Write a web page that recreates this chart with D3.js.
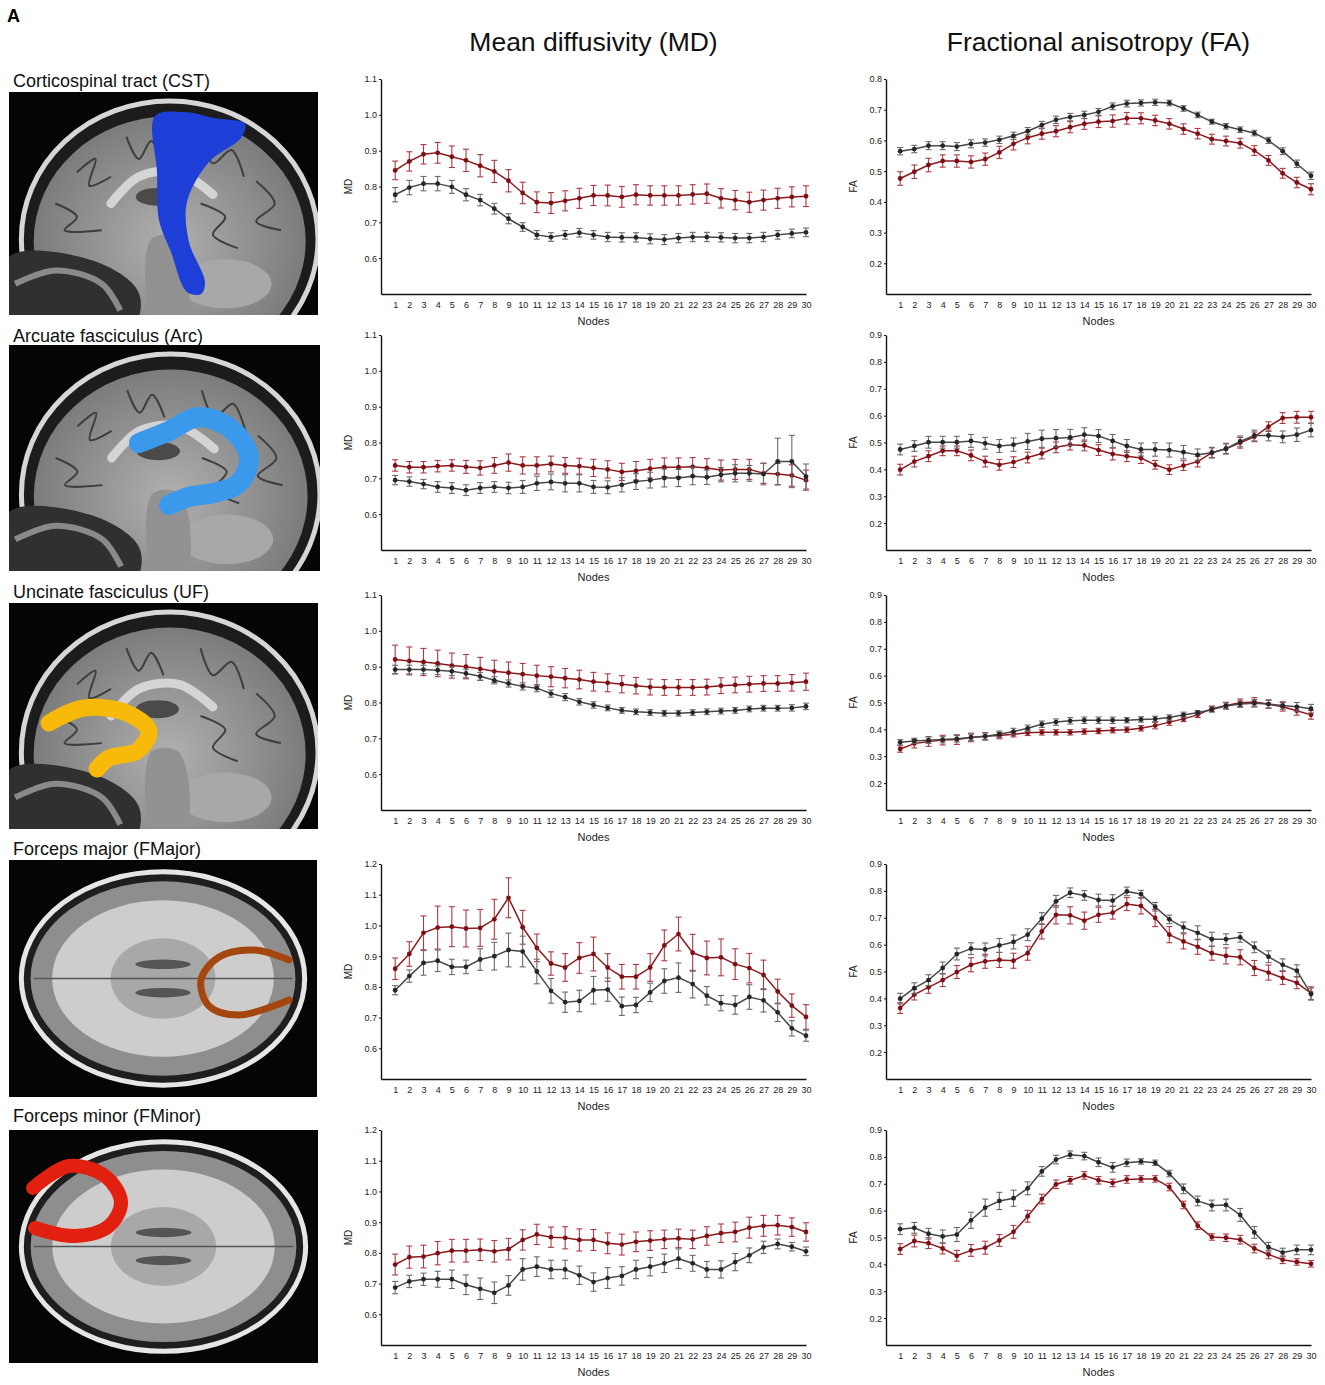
<!DOCTYPE html>
<html>
<head>
<meta charset="utf-8">
<script src="https://cdn.jsdelivr.net/npm/d3@7"></script>
<style>
  body { margin: 0; background: #fff; }
  svg { display: block; font-family: "Liberation Sans", Arial, sans-serif; }
</style>
</head>
<body>
<svg id="fig" width="1325" height="1385"></svg>
<script>
// ---- data ----
const nodes = [1, 2, 3, 4, 5, 6, 7, 8, 9, 10, 11, 12, 13, 14, 15,
  16, 17, 18, 19, 20, 21, 22, 23, 24, 25, 26, 27, 28, 29, 30];

const tractNames = ['Corticospinal tract (CST)', 'Arcuate fasciculus (Arc)',
  'Uncinate fasciculus (UF)', 'Forceps major (FMajor)', 'Forceps minor (FMinor)'];
const columnTitles = ['Mean diffusivity (MD)', 'Fractional anisotropy (FA)'];

const mdRanges = [[0.5, 1.1], [0.5, 1.1], [0.5, 1.1], [0.5, 1.2], [0.5, 1.2]];
const faRanges = [[0.1, 0.8], [0.1, 0.9], [0.1, 0.9], [0.1, 0.9], [0.1, 0.9]];

// CST
const cstMdRed = [0.845, 0.870, 0.890, 0.894, 0.883, 0.873, 0.858, 0.842, 0.816, 0.782, 0.756, 0.754, 0.760, 0.767, 0.775,
  0.775, 0.771, 0.777, 0.775, 0.775, 0.775, 0.778, 0.780, 0.767, 0.762, 0.756, 0.762, 0.767, 0.771, 0.773];
const cstMdRedErr = [0.026, 0.027, 0.027, 0.029, 0.030, 0.031, 0.031, 0.031, 0.031, 0.030, 0.029, 0.029, 0.028, 0.028, 0.028,
  0.029, 0.029, 0.028, 0.027, 0.027, 0.027, 0.027, 0.027, 0.027, 0.027, 0.028, 0.028, 0.028, 0.028, 0.029];
const cstMdGray = [0.777, 0.797, 0.808, 0.808, 0.799, 0.777, 0.762, 0.738, 0.710, 0.687, 0.665, 0.659, 0.665, 0.671, 0.665,
  0.659, 0.658, 0.658, 0.654, 0.652, 0.656, 0.659, 0.659, 0.658, 0.656, 0.656, 0.659, 0.665, 0.669, 0.672];
const cstMdGrayErr = [0.020, 0.020, 0.020, 0.020, 0.018, 0.017, 0.016, 0.015, 0.014, 0.012, 0.012, 0.012, 0.012, 0.012, 0.012,
  0.013, 0.013, 0.013, 0.014, 0.014, 0.013, 0.013, 0.013, 0.013, 0.013, 0.013, 0.013, 0.012, 0.012, 0.012];
const cstFaRed = [0.476, 0.498, 0.520, 0.533, 0.533, 0.530, 0.539, 0.561, 0.589, 0.609, 0.622, 0.630, 0.643, 0.654, 0.661,
  0.663, 0.672, 0.672, 0.665, 0.654, 0.637, 0.622, 0.604, 0.598, 0.591, 0.567, 0.535, 0.493, 0.463, 0.441];
const cstFaRedErr = [0.022, 0.022, 0.022, 0.020, 0.020, 0.020, 0.020, 0.020, 0.020, 0.020, 0.018, 0.018, 0.018, 0.018, 0.019,
  0.020, 0.019, 0.018, 0.017, 0.017, 0.017, 0.017, 0.016, 0.016, 0.016, 0.016, 0.016, 0.016, 0.017, 0.018];
const cstFaGray = [0.565, 0.572, 0.583, 0.583, 0.580, 0.589, 0.593, 0.602, 0.615, 0.630, 0.650, 0.667, 0.676, 0.683, 0.693,
  0.711, 0.720, 0.722, 0.724, 0.722, 0.704, 0.683, 0.661, 0.646, 0.635, 0.624, 0.600, 0.565, 0.524, 0.485];
const cstFaGrayErr = [0.012, 0.012, 0.013, 0.013, 0.013, 0.013, 0.012, 0.012, 0.012, 0.012, 0.012, 0.012, 0.012, 0.012, 0.011,
  0.011, 0.011, 0.010, 0.010, 0.009, 0.009, 0.009, 0.008, 0.009, 0.009, 0.009, 0.010, 0.011, 0.012, 0.012];

// Arc
const arcMdRed = [0.736, 0.731, 0.731, 0.734, 0.736, 0.732, 0.729, 0.736, 0.744, 0.736, 0.736, 0.740, 0.736, 0.734, 0.729,
  0.725, 0.718, 0.721, 0.727, 0.731, 0.731, 0.732, 0.729, 0.723, 0.725, 0.725, 0.714, 0.712, 0.708, 0.695];
const arcMdRedErr = [0.016, 0.016, 0.016, 0.016, 0.016, 0.018, 0.020, 0.022, 0.024, 0.024, 0.024, 0.022, 0.022, 0.022, 0.024,
  0.024, 0.024, 0.026, 0.026, 0.026, 0.026, 0.026, 0.026, 0.028, 0.028, 0.028, 0.028, 0.030, 0.030, 0.028];
const arcMdGray = [0.695, 0.691, 0.684, 0.676, 0.673, 0.667, 0.673, 0.676, 0.673, 0.676, 0.686, 0.690, 0.686, 0.686, 0.676,
  0.675, 0.682, 0.691, 0.695, 0.701, 0.701, 0.706, 0.703, 0.710, 0.714, 0.714, 0.712, 0.747, 0.747, 0.705];
const arcMdGrayErr = [0.013, 0.013, 0.013, 0.015, 0.015, 0.015, 0.015, 0.015, 0.016, 0.018, 0.020, 0.022, 0.024, 0.024, 0.018,
  0.018, 0.020, 0.022, 0.022, 0.025, 0.024, 0.024, 0.020, 0.020, 0.024, 0.022, 0.030, 0.065, 0.073, 0.035];
const arcFaRed = [0.399, 0.429, 0.449, 0.469, 0.469, 0.452, 0.429, 0.417, 0.427, 0.444, 0.459, 0.482, 0.492, 0.489, 0.472,
  0.457, 0.449, 0.442, 0.417, 0.399, 0.414, 0.429, 0.462, 0.477, 0.499, 0.521, 0.559, 0.591, 0.594, 0.594];
const arcFaRedErr = [0.020, 0.020, 0.020, 0.018, 0.018, 0.020, 0.020, 0.020, 0.020, 0.020, 0.020, 0.020, 0.020, 0.020, 0.020,
  0.022, 0.020, 0.020, 0.016, 0.018, 0.018, 0.020, 0.018, 0.020, 0.020, 0.018, 0.018, 0.020, 0.022, 0.022];
const arcFaGray = [0.474, 0.487, 0.501, 0.501, 0.501, 0.506, 0.497, 0.487, 0.492, 0.504, 0.514, 0.516, 0.519, 0.529, 0.524,
  0.506, 0.487, 0.474, 0.474, 0.472, 0.464, 0.454, 0.462, 0.477, 0.504, 0.526, 0.526, 0.521, 0.529, 0.546];
const arcFaGrayErr = [0.020, 0.020, 0.022, 0.022, 0.022, 0.024, 0.022, 0.024, 0.025, 0.030, 0.032, 0.032, 0.030, 0.026, 0.024,
  0.024, 0.024, 0.024, 0.025, 0.026, 0.025, 0.022, 0.020, 0.018, 0.020, 0.020, 0.020, 0.022, 0.025, 0.025];

// UF
const ufMdRed = [0.920, 0.916, 0.913, 0.909, 0.903, 0.900, 0.894, 0.887, 0.883, 0.879, 0.875, 0.872, 0.868, 0.864, 0.858,
  0.855, 0.851, 0.847, 0.843, 0.842, 0.842, 0.842, 0.843, 0.847, 0.849, 0.851, 0.853, 0.853, 0.855, 0.858];
const ufMdRedErr = [0.040, 0.039, 0.038, 0.037, 0.035, 0.034, 0.032, 0.031, 0.030, 0.030, 0.029, 0.028, 0.027, 0.026, 0.026,
  0.025, 0.024, 0.023, 0.022, 0.022, 0.022, 0.022, 0.022, 0.022, 0.022, 0.022, 0.022, 0.022, 0.023, 0.024];
const ufMdGray = [0.892, 0.892, 0.892, 0.890, 0.887, 0.881, 0.873, 0.862, 0.853, 0.845, 0.840, 0.825, 0.815, 0.802, 0.793,
  0.785, 0.778, 0.774, 0.772, 0.770, 0.770, 0.772, 0.774, 0.776, 0.778, 0.782, 0.784, 0.784, 0.785, 0.789];
const ufMdGrayErr = [0.012, 0.012, 0.012, 0.012, 0.012, 0.012, 0.011, 0.010, 0.010, 0.010, 0.010, 0.010, 0.010, 0.009, 0.009,
  0.008, 0.008, 0.008, 0.008, 0.008, 0.008, 0.008, 0.008, 0.008, 0.008, 0.008, 0.008, 0.008, 0.009, 0.009];
const ufFaRed = [0.327, 0.347, 0.355, 0.360, 0.362, 0.370, 0.374, 0.377, 0.382, 0.387, 0.389, 0.389, 0.389, 0.392, 0.394,
  0.397, 0.399, 0.404, 0.414, 0.427, 0.439, 0.454, 0.477, 0.489, 0.499, 0.502, 0.494, 0.484, 0.469, 0.454];
const ufFaRedErr = [0.012, 0.016, 0.018, 0.018, 0.018, 0.016, 0.014, 0.012, 0.010, 0.010, 0.010, 0.010, 0.010, 0.010, 0.010,
  0.010, 0.010, 0.010, 0.012, 0.012, 0.010, 0.010, 0.010, 0.012, 0.014, 0.016, 0.016, 0.016, 0.016, 0.016];
const ufFaGray = [0.352, 0.357, 0.360, 0.362, 0.365, 0.370, 0.374, 0.382, 0.392, 0.404, 0.419, 0.427, 0.432, 0.434, 0.434,
  0.434, 0.434, 0.437, 0.439, 0.444, 0.454, 0.462, 0.474, 0.487, 0.494, 0.497, 0.494, 0.489, 0.484, 0.477];
const ufFaGrayErr = [0.010, 0.010, 0.012, 0.012, 0.012, 0.012, 0.012, 0.012, 0.012, 0.012, 0.012, 0.012, 0.012, 0.012, 0.012,
  0.012, 0.010, 0.010, 0.010, 0.010, 0.010, 0.008, 0.010, 0.012, 0.012, 0.014, 0.014, 0.014, 0.016, 0.016];

// FMajor
const fmajMdRed = [0.859, 0.907, 0.976, 0.993, 0.996, 0.990, 0.992, 1.020, 1.090, 0.994, 0.927, 0.876, 0.863, 0.894, 0.907,
  0.863, 0.833, 0.833, 0.863, 0.935, 0.972, 0.911, 0.894, 0.896, 0.874, 0.861, 0.839, 0.785, 0.739, 0.702];
const fmajMdRedErr = [0.035, 0.040, 0.055, 0.070, 0.065, 0.060, 0.060, 0.065, 0.065, 0.055, 0.045, 0.038, 0.045, 0.050, 0.055,
  0.045, 0.040, 0.040, 0.045, 0.050, 0.055, 0.060, 0.055, 0.060, 0.050, 0.048, 0.048, 0.040, 0.038, 0.040];
const fmajMdGray = [0.789, 0.835, 0.878, 0.885, 0.865, 0.865, 0.889, 0.900, 0.920, 0.915, 0.850, 0.787, 0.750, 0.754, 0.789,
  0.791, 0.737, 0.741, 0.782, 0.819, 0.830, 0.809, 0.771, 0.747, 0.741, 0.767, 0.756, 0.717, 0.665, 0.641];
const fmajMdGrayErr = [0.015, 0.020, 0.040, 0.035, 0.025, 0.022, 0.035, 0.045, 0.055, 0.050, 0.040, 0.040, 0.033, 0.035, 0.045,
  0.038, 0.030, 0.025, 0.030, 0.040, 0.048, 0.045, 0.030, 0.025, 0.030, 0.040, 0.038, 0.030, 0.025, 0.018];
const fmajFaRed = [0.364, 0.414, 0.441, 0.468, 0.498, 0.525, 0.538, 0.543, 0.540, 0.568, 0.649, 0.711, 0.709, 0.689, 0.711,
  0.719, 0.751, 0.744, 0.699, 0.637, 0.612, 0.592, 0.568, 0.558, 0.553, 0.513, 0.496, 0.476, 0.458, 0.419];
const fmajFaRedErr = [0.020, 0.020, 0.022, 0.024, 0.024, 0.026, 0.026, 0.028, 0.028, 0.026, 0.028, 0.034, 0.032, 0.032, 0.028,
  0.024, 0.024, 0.030, 0.032, 0.030, 0.028, 0.028, 0.026, 0.030, 0.028, 0.028, 0.028, 0.024, 0.022, 0.024];
const fmajFaGray = [0.399, 0.438, 0.468, 0.513, 0.565, 0.585, 0.582, 0.597, 0.610, 0.637, 0.697, 0.761, 0.793, 0.783, 0.766,
  0.764, 0.798, 0.788, 0.741, 0.694, 0.664, 0.644, 0.620, 0.620, 0.627, 0.590, 0.555, 0.525, 0.503, 0.416];
const fmajFaGrayErr = [0.020, 0.020, 0.020, 0.022, 0.022, 0.022, 0.024, 0.026, 0.026, 0.022, 0.022, 0.022, 0.018, 0.018, 0.022,
  0.022, 0.016, 0.014, 0.016, 0.016, 0.020, 0.026, 0.026, 0.020, 0.018, 0.020, 0.022, 0.022, 0.022, 0.022];

// FMinor
const fminMdRed = [0.762, 0.786, 0.788, 0.799, 0.807, 0.807, 0.810, 0.805, 0.812, 0.842, 0.860, 0.851, 0.849, 0.842, 0.842,
  0.831, 0.827, 0.836, 0.840, 0.844, 0.847, 0.844, 0.855, 0.864, 0.868, 0.882, 0.888, 0.890, 0.884, 0.868];
const fminMdRedErr = [0.034, 0.036, 0.037, 0.038, 0.037, 0.037, 0.035, 0.035, 0.035, 0.033, 0.033, 0.033, 0.036, 0.036, 0.034,
  0.034, 0.034, 0.032, 0.032, 0.030, 0.030, 0.030, 0.030, 0.030, 0.032, 0.034, 0.034, 0.032, 0.030, 0.030];
const fminMdGray = [0.687, 0.707, 0.714, 0.714, 0.714, 0.696, 0.683, 0.670, 0.694, 0.746, 0.755, 0.746, 0.746, 0.727, 0.705,
  0.718, 0.725, 0.746, 0.755, 0.766, 0.781, 0.766, 0.746, 0.746, 0.770, 0.792, 0.818, 0.829, 0.820, 0.805];
const fminMdGrayErr = [0.020, 0.020, 0.020, 0.026, 0.030, 0.032, 0.035, 0.035, 0.032, 0.035, 0.032, 0.030, 0.030, 0.030, 0.030,
  0.034, 0.030, 0.030, 0.030, 0.030, 0.032, 0.026, 0.026, 0.028, 0.028, 0.024, 0.020, 0.016, 0.014, 0.014];
const fminFaRed = [0.457, 0.487, 0.479, 0.459, 0.432, 0.452, 0.462, 0.489, 0.521, 0.579, 0.643, 0.698, 0.713, 0.731, 0.713,
  0.703, 0.716, 0.718, 0.718, 0.688, 0.621, 0.544, 0.502, 0.499, 0.492, 0.459, 0.437, 0.417, 0.409, 0.402];
const fminFaRedErr = [0.020, 0.022, 0.020, 0.020, 0.020, 0.022, 0.024, 0.022, 0.024, 0.022, 0.018, 0.016, 0.014, 0.014, 0.014,
  0.014, 0.014, 0.012, 0.012, 0.014, 0.014, 0.014, 0.012, 0.014, 0.016, 0.016, 0.016, 0.014, 0.012, 0.012];
const fminFaGray = [0.531, 0.536, 0.514, 0.504, 0.511, 0.564, 0.611, 0.636, 0.646, 0.683, 0.746, 0.790, 0.808, 0.803, 0.780,
  0.761, 0.778, 0.783, 0.778, 0.738, 0.681, 0.636, 0.619, 0.621, 0.584, 0.519, 0.464, 0.444, 0.454, 0.454];
const fminFaGrayErr = [0.020, 0.020, 0.020, 0.024, 0.026, 0.030, 0.032, 0.032, 0.030, 0.024, 0.018, 0.016, 0.014, 0.014, 0.016,
  0.018, 0.014, 0.010, 0.010, 0.012, 0.018, 0.018, 0.020, 0.022, 0.024, 0.022, 0.018, 0.016, 0.018, 0.018];

// ---- layout ----
const rowTops = [79, 335, 595, 864, 1130];
const plotH = 215;
const mdX = [381, 806];
const faX = [886, 1311];
const imgBoxes = [[9, 92, 309, 223], [9, 345, 311, 226], [9, 603, 309, 226], [9, 860, 308, 237], [9, 1130, 309, 233]];
const labelBase = [87, 342, 598, 855, 1122];

const redLine = '#8c1a1f';
const redBar = '#ad3a40';
const grayLine = '#484848';
const grayBar = '#6a6a6a';

const panels = [
  {md: [cstMdRed, cstMdRedErr, cstMdGray, cstMdGrayErr], fa: [cstFaRed, cstFaRedErr, cstFaGray, cstFaGrayErr]},
  {md: [arcMdRed, arcMdRedErr, arcMdGray, arcMdGrayErr], fa: [arcFaRed, arcFaRedErr, arcFaGray, arcFaGrayErr]},
  {md: [ufMdRed, ufMdRedErr, ufMdGray, ufMdGrayErr], fa: [ufFaRed, ufFaRedErr, ufFaGray, ufFaGrayErr]},
  {md: [fmajMdRed, fmajMdRedErr, fmajMdGray, fmajMdGrayErr], fa: [fmajFaRed, fmajFaRedErr, fmajFaGray, fmajFaGrayErr]},
  {md: [fminMdRed, fminMdRedErr, fminMdGray, fminMdGrayErr], fa: [fminFaRed, fminFaRedErr, fminFaGray, fminFaGrayErr]},
];

const svg = d3.select('#fig');
const defs = svg.append('defs');

svg.append('text')
    .attr('x', 7).attr('y', 22)
    .attr('font-size', 18).attr('font-weight', 'bold')
    .text('A');

svg.selectAll('text.coltitle')
    .data(columnTitles)
    .join('text')
    .attr('class', 'coltitle')
    .attr('x', (d, i) => i === 0 ? (mdX[0] + mdX[1]) / 2 : (faX[0] + faX[1]) / 2)
    .attr('y', 51)
    .attr('text-anchor', 'middle')
    .attr('font-size', 26.5)
    .attr('fill', '#111')
    .text((d) => d);

// ---- one line/errorbar panel ----
const drawPanel = (xr, top, domain, series, yLabel) => {
  const g = svg.append('g');
  const x = d3.scaleLinear().domain([0, 30]).range(xr);
  const y = d3.scaleLinear().domain(domain).range([top + plotH, top]);
  const ticks = d3.range(Math.round((domain[0] + 0.1) * 10), Math.round(domain[1] * 10) + 1).map((v) => v / 10);

  const ya = g.append('g')
      .attr('transform', `translate(${xr[0]},0)`)
      .call(d3.axisLeft(y).tickValues(ticks).tickFormat(d3.format('.1f')).tickSize(2).tickPadding(2).tickSizeOuter(0));
  const xa = g.append('g')
      .attr('transform', `translate(0,${top + plotH})`)
      .call(d3.axisBottom(x).tickValues(nodes).tickSize(0).tickPadding(8).tickSizeOuter(0));
  [ya, xa].forEach((a) => {
    a.select('.domain').attr('stroke', '#111').attr('stroke-width', 1.4);
    a.selectAll('.tick line').attr('stroke', '#111');
    a.selectAll('.tick text').attr('font-size', 9).attr('fill', '#222').attr('font-family', null);
  });

  g.append('text')
      .attr('transform', `translate(${xr[0] - 29},${top + plotH / 2}) rotate(-90)`)
      .attr('text-anchor', 'middle')
      .attr('font-size', 10)
      .attr('fill', '#222')
      .text(yLabel);
  g.append('text')
      .attr('x', (xr[0] + xr[1]) / 2)
      .attr('y', top + plotH + 31)
      .attr('text-anchor', 'middle')
      .attr('font-size', 11)
      .attr('fill', '#222')
      .text('Nodes');

  const [red, redErr, gray, grayErr] = series;
  const groups = [
    {vals: red, errs: redErr, line: redLine, bar: redBar},
    {vals: gray, errs: grayErr, line: grayLine, bar: grayBar},
  ];
  const line = d3.line().x((d, i) => x(nodes[i])).y((d) => y(d));
  groups.forEach((s) => {
    const sg = g.append('g');
    const pts = s.vals.map((v, i) => ({n: nodes[i], v, e: s.errs[i]}));
    sg.selectAll('line.eb')
        .data(pts)
        .join('line')
        .attr('x1', (d) => x(d.n)).attr('x2', (d) => x(d.n))
        .attr('y1', (d) => y(d.v - d.e)).attr('y2', (d) => y(d.v + d.e))
        .attr('stroke', s.bar).attr('stroke-width', 1.1);
    ['lo', 'hi'].forEach((k) => {
      sg.selectAll(`line.cap${k}`)
          .data(pts)
          .join('line')
          .attr('x1', (d) => x(d.n) - 3).attr('x2', (d) => x(d.n) + 3)
          .attr('y1', (d) => y(k === 'lo' ? d.v - d.e : d.v + d.e))
          .attr('y2', (d) => y(k === 'lo' ? d.v - d.e : d.v + d.e))
          .attr('stroke', s.bar).attr('stroke-width', 1.1);
    });
    sg.append('path')
        .attr('d', line(s.vals))
        .attr('fill', 'none')
        .attr('stroke', s.line)
        .attr('stroke-width', 1.5);
    sg.selectAll('circle')
        .data(pts)
        .join('circle')
        .attr('cx', (d) => x(d.n)).attr('cy', (d) => y(d.v))
        .attr('r', 2.4)
        .attr('fill', s.line === redLine ? '#7e0f14' : '#262626');
  });
};

// ---- schematic MRI thumbnails ----
const curve = d3.line().curve(d3.curveCatmullRom);
const closed = d3.line().curve(d3.curveCatmullRomClosed);

const sagittal = (g, w, h, id) => {
  const grad = defs.append('radialGradient').attr('id', `bg${id}`);
  grad.append('stop').attr('offset', '0%').attr('stop-color', '#b0b0b0');
  grad.append('stop').attr('offset', '100%').attr('stop-color', '#7c7c7c');
  const cx = w * 0.52;
  const cy = h * 0.66;
  g.append('ellipse').attr('cx', cx).attr('cy', cy).attr('rx', w * 0.48).attr('ry', h * 0.62)
      .attr('fill', '#1c1c1c').attr('stroke', '#d6d6d6').attr('stroke-width', 5);
  g.append('ellipse').attr('cx', cx).attr('cy', cy + 2).attr('rx', w * 0.44).attr('ry', h * 0.56)
      .attr('fill', `url(#bg${id})`);
  // sulci
  const sulci = [
    [[0.22, 0.36], [0.28, 0.30], [0.26, 0.42], [0.33, 0.38]],
    [[0.38, 0.2], [0.42, 0.3], [0.46, 0.22], [0.5, 0.32]],
    [[0.62, 0.2], [0.66, 0.32], [0.72, 0.26], [0.76, 0.38]],
    [[0.8, 0.4], [0.86, 0.5], [0.8, 0.58], [0.88, 0.62]],
    [[0.15, 0.5], [0.22, 0.56], [0.18, 0.62], [0.3, 0.62]],
    [[0.62, 0.5], [0.7, 0.56], [0.66, 0.64], [0.74, 0.7]],
  ];
  sulci.forEach((s) => g.append('path')
      .attr('d', curve(s.map(([a, b]) => [a * w, b * h])))
      .attr('fill', 'none').attr('stroke', '#3e3e3e').attr('stroke-width', 2));
  // corpus callosum + ventricle
  g.append('path')
      .attr('d', curve([[0.33, 0.5], [0.42, 0.38], [0.55, 0.36], [0.66, 0.46]].map(([a, b]) => [a * w, b * h])))
      .attr('fill', 'none').attr('stroke', '#d4d4d4').attr('stroke-width', 9).attr('stroke-linecap', 'round');
  g.append('ellipse').attr('cx', w * 0.48).attr('cy', h * 0.47).attr('rx', w * 0.07).attr('ry', h * 0.04)
      .attr('fill', '#4a4a4a');
  // cerebellum and brainstem
  g.append('ellipse').attr('cx', w * 0.7).attr('cy', h * 0.86).attr('rx', w * 0.15).attr('ry', h * 0.11)
      .attr('fill', '#a8a8a8');
  g.append('path')
      .attr('d', closed([[0.46, 0.66], [0.55, 0.66], [0.57, 1.0], [0.47, 1.02]].map(([a, b]) => [a * w, b * h])))
      .attr('fill', '#929292');
  // face / neck
  g.append('path')
      .attr('d', closed([[0.0, 0.74], [0.28, 0.76], [0.42, 0.9], [0.4, 1.05], [0.0, 1.05]].map(([a, b]) => [a * w, b * h])))
      .attr('fill', '#303030');
  g.append('path')
      .attr('d', curve([[0.02, 0.86], [0.15, 0.8], [0.3, 0.86], [0.36, 0.98]].map(([a, b]) => [a * w, b * h])))
      .attr('fill', 'none').attr('stroke', '#8a8a8a').attr('stroke-width', 6);
};

const axial = (g, w, h, id) => {
  const cx = w * 0.5;
  const cy = h * 0.5;
  g.append('ellipse').attr('cx', cx).attr('cy', cy).attr('rx', w * 0.46).attr('ry', h * 0.45)
      .attr('fill', '#1e1e1e').attr('stroke', '#e6e6e6').attr('stroke-width', 5);
  g.append('ellipse').attr('cx', cx).attr('cy', cy).attr('rx', w * 0.43).attr('ry', h * 0.41)
      .attr('fill', '#8e8e8e');
  g.append('ellipse').attr('cx', cx).attr('cy', cy).attr('rx', w * 0.36).attr('ry', h * 0.33)
      .attr('fill', '#cdcdcd');
  g.append('ellipse').attr('cx', cx).attr('cy', cy).attr('rx', w * 0.17).attr('ry', h * 0.17)
      .attr('fill', '#a8a8a8');
  g.append('line').attr('x1', w * 0.08).attr('x2', w * 0.92).attr('y1', cy).attr('y2', cy)
      .attr('stroke', '#555').attr('stroke-width', 1.5);
  [-1, 1].forEach((s) => g.append('ellipse')
      .attr('cx', cx).attr('cy', cy + s * h * 0.06).attr('rx', w * 0.09).attr('ry', h * 0.02)
      .attr('fill', '#555'));
};

const tractShapes = [
  (g) => g.append('path')
      .attr('d', closed([[146, 24], [175, 20], [205, 26], [236, 32], [232, 46], [200, 70], [178, 110],
        [180, 150], [196, 190], [192, 202], [178, 200], [162, 160], [150, 128], [148, 80]]))
      .attr('fill', '#1d3fd8'),
  (g) => g.append('path')
      .attr('d', curve([[130, 98], [160, 86], [190, 72], [222, 84], [240, 112], [230, 138], [204, 148],
        [180, 152], [160, 160]]))
      .attr('fill', 'none').attr('stroke', '#3a99ea').attr('stroke-width', 20).attr('stroke-linecap', 'round'),
  (g) => g.append('path')
      .attr('d', curve([[40, 120], [75, 105], [118, 110], [140, 128], [128, 148], [100, 155], [88, 166]]))
      .attr('fill', 'none').attr('stroke', '#f7b90a').attr('stroke-width', 17).attr('stroke-linecap', 'round'),
  (g) => g.append('path')
      .attr('d', curve([[280, 100], [245, 90], [210, 97], [192, 120], [200, 146], [230, 155], [280, 140]]))
      .attr('fill', 'none').attr('stroke', '#a6460f').attr('stroke-width', 7).attr('stroke-linecap', 'round'),
  (g) => g.append('path')
      .attr('d', curve([[24, 58], [60, 36], [96, 46], [112, 72], [100, 96], [66, 106], [26, 98]]))
      .attr('fill', 'none').attr('stroke', '#e2200f').attr('stroke-width', 14).attr('stroke-linecap', 'round'),
];

tractNames.forEach((name, i) => {
  const [bx, by, bw, bh] = imgBoxes[i];
  defs.append('clipPath').attr('id', `clip${i}`)
      .append('rect').attr('width', bw).attr('height', bh);
  const g = svg.append('g')
      .attr('transform', `translate(${bx},${by})`)
      .attr('clip-path', `url(#clip${i})`);
  g.append('rect').attr('width', bw).attr('height', bh).attr('fill', '#050505');
  if (i < 3) sagittal(g, bw, bh, i); else axial(g, bw, bh, i);
  tractShapes[i](g);

  svg.append('text')
      .attr('x', 13).attr('y', labelBase[i])
      .attr('font-size', 18)
      .attr('fill', '#111')
      .text(name);

  drawPanel(mdX, rowTops[i], mdRanges[i], panels[i].md, 'MD');
  drawPanel(faX, rowTops[i], faRanges[i], panels[i].fa, 'FA');
});
</script>
</body>
</html>
